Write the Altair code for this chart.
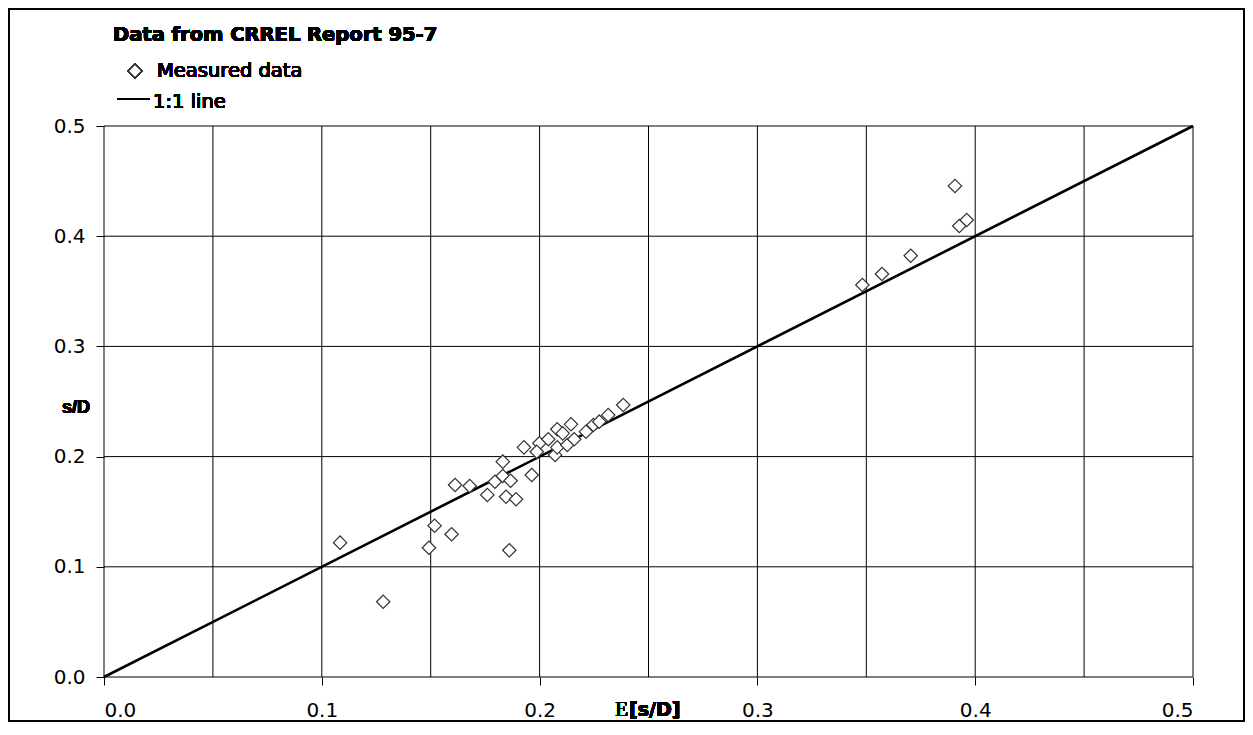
import altair as alt
import pandas as pd

e_sd = [0.1084, 0.1282, 0.1492, 0.1518, 0.1596, 0.1612, 0.1679, 0.1861,
        0.1831, 0.1928, 0.1760, 0.1795, 0.1831, 0.1867, 0.1846, 0.1892,
        0.1964, 0.1999, 0.2040, 0.2081, 0.2144, 0.2071, 0.2081, 0.2127,
        0.2159, 0.2106, 0.2213, 0.2247, 0.2274, 0.2315, 0.2384, 0.1987,
        0.3482, 0.3572, 0.3704, 0.3907, 0.3927, 0.3961]
s_d = [0.1219, 0.0683, 0.1173, 0.1373, 0.1295, 0.1742, 0.1733, 0.1150,
       0.1954, 0.2084, 0.1652, 0.1772, 0.1824, 0.1781, 0.1636, 0.1613,
       0.1833, 0.2121, 0.2157, 0.2248, 0.2293, 0.2015, 0.2084, 0.2105,
       0.2157, 0.2211, 0.2226, 0.2287, 0.2317, 0.2377, 0.2468, 0.2044,
       0.3557, 0.3657, 0.3823, 0.4456, 0.4093, 0.4147]

line_x = [0.0, 0.5]
line_y = [0.0, 0.5]

x_grid = [0.0, 0.05, 0.1, 0.15, 0.2, 0.25, 0.3, 0.35, 0.4, 0.45, 0.5]
y_grid = [0.0, 0.1, 0.2, 0.3, 0.4, 0.5]
tick_vals = [0.0, 0.1, 0.2, 0.3, 0.4, 0.5]

title_text = "Data from CRREL Report 95-7"
legend_labels = ["Measured data", "1:1 line"]

W, H = 1089, 551
FONT = "DejaVu Sans"

pts = pd.DataFrame({"x": e_sd, "y": s_d})
ln = pd.DataFrame({"x": line_x, "y": line_y})
xg = pd.DataFrame({"g": x_grid})
yg = pd.DataFrame({"g": y_grid})

xscale = alt.Scale(domain=[0, 0.5], nice=False, zero=False)
yscale = alt.Scale(domain=[0, 0.5], nice=False, zero=False)

xaxis = alt.Axis(values=tick_vals, format=".1f", title=None, grid=False, domain=False,
                 tickSize=8, tickColor="#000", tickWidth=1, labelFontSize=20,
                 labelFont=FONT, labelColor="#000", labelPadding=15)
yaxis = alt.Axis(values=tick_vals, format=".1f", title=None, grid=False, domain=False,
                 tickSize=8, tickColor="#000", tickWidth=1, labelFontSize=20,
                 labelFont=FONT, labelColor="#000", labelPadding=11)

vgrid = alt.Chart(xg).mark_rule(color="#000", strokeWidth=1).encode(
    x=alt.X("g:Q", scale=xscale, axis=xaxis))
hgrid = alt.Chart(yg).mark_rule(color="#000", strokeWidth=1).encode(
    y=alt.Y("g:Q", scale=yscale, axis=yaxis))

one = alt.Chart(ln).mark_line(color="#000", strokeWidth=2.6).encode(
    x=alt.X("x:Q", scale=xscale), y=alt.Y("y:Q", scale=yscale))

points = alt.Chart(pts).mark_point(shape="diamond", filled=True, fill="white",
                                   stroke="#333", strokeWidth=1.2, size=180,
                                   opacity=1).encode(
    x=alt.X("x:Q", scale=xscale), y=alt.Y("y:Q", scale=yscale))

# Decorations (title, legend, axis titles, outer frame), positioned in pixels
frame = alt.Chart(pts).mark_rect(fill=None, stroke="#000", strokeWidth=2).encode(
    x=alt.value(-95), x2=alt.value(1140), y=alt.value(-117), y2=alt.value(595))

title = alt.Chart(pts).mark_text(text=title_text, font=FONT, fontSize=19.5, fontWeight="bold",
                                 align="left", baseline="middle", color="#000").encode(
    x=alt.value(9), y=alt.value(-91))

leg_sym = alt.Chart(pts).mark_point(shape="diamond", filled=True, fill="white",
                                    stroke="#333", strokeWidth=1.2, size=180).encode(
    x=alt.value(31), y=alt.value(-55))
leg_t1 = alt.Chart(pts).mark_text(text=legend_labels[0], font=FONT, fontSize=19.5,
                                  align="left", baseline="middle", color="#000").encode(
    x=alt.value(53), y=alt.value(-55))
leg_line = alt.Chart(pts).mark_rule(color="#000", strokeWidth=2).encode(
    x=alt.value(13), x2=alt.value(46), y=alt.value(-27))
leg_t2 = alt.Chart(pts).mark_text(text=legend_labels[1], font=FONT, fontSize=19.5,
                                  align="left", baseline="middle", color="#000").encode(
    x=alt.value(49), y=alt.value(-24))

ylab = alt.Chart(pts).mark_text(text="s/D", font="Liberation Sans", fontSize=18,
                                fontWeight="bold", align="center", baseline="middle",
                                color="#000").encode(
    x=alt.value(-28), y=alt.value(282))
xlab_e = alt.Chart(pts).mark_text(text="E", font="Liberation Serif", fontSize=21,
                                  align="right", baseline="middle", color="#000").encode(
    x=alt.value(524), y=alt.value(584))
xlab_r = alt.Chart(pts).mark_text(text="[s/D]", font=FONT, fontSize=19, fontWeight="bold",
                                  align="left", baseline="middle", color="#000").encode(
    x=alt.value(525), y=alt.value(584))

chart = alt.layer(
    vgrid, hgrid, one, points, frame, title, leg_sym, leg_t1, leg_line, leg_t2,
    ylab, xlab_e, xlab_r
).resolve_scale(x="shared", y="shared").properties(
    width=W, height=H,
    autosize=alt.AutoSizeParams(type="none"),
    padding={"left": 96, "top": 118, "right": 52, "bottom": 45},
    background="white",
).configure_view(stroke=None)

chart.save("out.html", embed_options={"renderer": "svg", "actions": False})
